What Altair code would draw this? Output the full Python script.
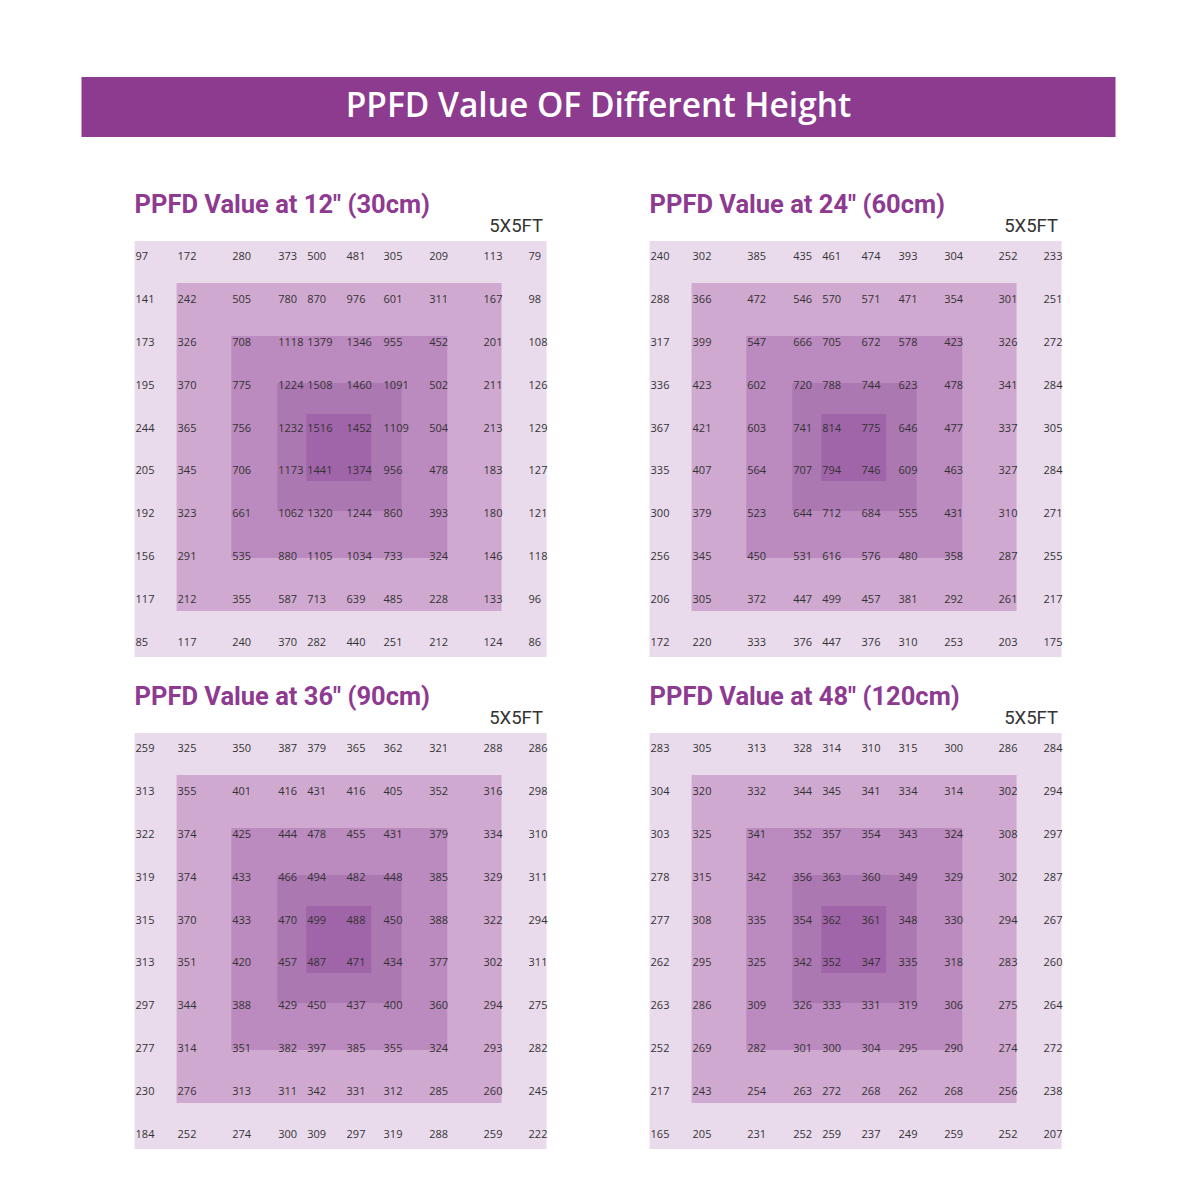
import altair as alt
import pandas as pd

# ---------------- data ----------------
banner_title = "PPFD Value OF Different Height"
panel_titles = [
    'PPFD Value at 12" (30cm)',
    'PPFD Value at 24" (60cm)',
    'PPFD Value at 36" (90cm)',
    'PPFD Value at 48" (120cm)',
]
area_label = "5X5FT"

ppfd_12in = [
    [97, 172, 280, 373, 500, 481, 305, 209, 113, 79],
    [141, 242, 505, 780, 870, 976, 601, 311, 167, 98],
    [173, 326, 708, 1118, 1379, 1346, 955, 452, 201, 108],
    [195, 370, 775, 1224, 1508, 1460, 1091, 502, 211, 126],
    [244, 365, 756, 1232, 1516, 1452, 1109, 504, 213, 129],
    [205, 345, 706, 1173, 1441, 1374, 956, 478, 183, 127],
    [192, 323, 661, 1062, 1320, 1244, 860, 393, 180, 121],
    [156, 291, 535, 880, 1105, 1034, 733, 324, 146, 118],
    [117, 212, 355, 587, 713, 639, 485, 228, 133, 96],
    [85, 117, 240, 370, 282, 440, 251, 212, 124, 86],
]
ppfd_24in = [
    [240, 302, 385, 435, 461, 474, 393, 304, 252, 233],
    [288, 366, 472, 546, 570, 571, 471, 354, 301, 251],
    [317, 399, 547, 666, 705, 672, 578, 423, 326, 272],
    [336, 423, 602, 720, 788, 744, 623, 478, 341, 284],
    [367, 421, 603, 741, 814, 775, 646, 477, 337, 305],
    [335, 407, 564, 707, 794, 746, 609, 463, 327, 284],
    [300, 379, 523, 644, 712, 684, 555, 431, 310, 271],
    [256, 345, 450, 531, 616, 576, 480, 358, 287, 255],
    [206, 305, 372, 447, 499, 457, 381, 292, 261, 217],
    [172, 220, 333, 376, 447, 376, 310, 253, 203, 175],
]
ppfd_36in = [
    [259, 325, 350, 387, 379, 365, 362, 321, 288, 286],
    [313, 355, 401, 416, 431, 416, 405, 352, 316, 298],
    [322, 374, 425, 444, 478, 455, 431, 379, 334, 310],
    [319, 374, 433, 466, 494, 482, 448, 385, 329, 311],
    [315, 370, 433, 470, 499, 488, 450, 388, 322, 294],
    [313, 351, 420, 457, 487, 471, 434, 377, 302, 311],
    [297, 344, 388, 429, 450, 437, 400, 360, 294, 275],
    [277, 314, 351, 382, 397, 385, 355, 324, 293, 282],
    [230, 276, 313, 311, 342, 331, 312, 285, 260, 245],
    [184, 252, 274, 300, 309, 297, 319, 288, 259, 222],
]
ppfd_48in = [
    [283, 305, 313, 328, 314, 310, 315, 300, 286, 284],
    [304, 320, 332, 344, 345, 341, 334, 314, 302, 294],
    [303, 325, 341, 352, 357, 354, 343, 324, 308, 297],
    [278, 315, 342, 356, 363, 360, 349, 329, 302, 287],
    [277, 308, 335, 354, 362, 361, 348, 330, 294, 267],
    [262, 295, 325, 342, 352, 347, 335, 318, 283, 260],
    [263, 286, 309, 326, 333, 331, 319, 306, 275, 264],
    [252, 269, 282, 301, 300, 304, 295, 290, 274, 272],
    [217, 243, 254, 263, 272, 268, 262, 268, 256, 238],
    [165, 205, 231, 252, 259, 237, 249, 259, 252, 207],
]
grids = [ppfd_12in, ppfd_24in, ppfd_36in, ppfd_48in]

# nested intensity zones (ring 0 = outermost)
zone_rings = [0, 1, 2, 3, 4]

# ---------------- styles / layout ----------------
PANEL_W, PANEL_H = 412, 416
zone_colors = ["#E9DBEC", "#D0A9D0", "#BB8ABE", "#AC78B1", "#A065A8"]
purple = "#8C3B8F"
title_purple = "#8E3A91"
num_font = "Open Sans"
head_font = "Roboto"

# piecewise scales: grid-line index -> position inside a panel
grid_lines = list(range(11))
x_line_px = [0, 42, 96.7, 142.7, 171.7, 211, 236.7, 267, 312.7, 367, PANEL_W]
y_line_px = [0, 42, 95, 142, 173, 207, 240, 270, 317, 370, PANEL_H]

xscale = alt.Scale(domain=grid_lines, range=x_line_px)
yscale = alt.Scale(domain=grid_lines, range=y_line_px)
rowscale = alt.Scale(type="point", padding=0.35)

top_axis = alt.Axis(
    orient="top", title=area_label, labels=False, ticks=False, domain=False,
    grid=False, titleAnchor="end", titleAlign="right", titleX=PANEL_W - 4,
    titleFontSize=18.5, titleFont=head_font, titleFontWeight="normal",
    titleColor="#333333", titlePadding=6,
)

zones = pd.DataFrame({"ring": zone_rings})
zones["lo"] = zones["ring"]
zones["hi"] = 10 - zones["ring"]


def panel(values, title):
    cells = pd.DataFrame(
        [{"row": r, "col": c, "value": v}
         for r, rowvals in enumerate(values) for c, v in enumerate(rowvals)]
    )
    rects = alt.Chart(zones).mark_rect(strokeWidth=0).encode(
        x=alt.X("lo:Q", scale=xscale, axis=top_axis),
        x2="hi:Q",
        y=alt.Y("lo:Q", scale=yscale, axis=None),
        y2="hi:Q",
        color=alt.Color("ring:O", scale=alt.Scale(range=zone_colors), legend=None),
        order=alt.Order("ring:O"),
    )
    left_txt = alt.Chart(cells).transform_filter("datum.col <= 5").mark_text(
        align="left", baseline="middle", dx=1, dy=1, font=num_font, fontSize=11,
        color="#333333",
    ).encode(
        x=alt.X("col:Q", scale=xscale, axis=top_axis),
        y=alt.Y("row:O", scale=rowscale, axis=None),
        text=alt.Text("value:Q", format="d"),
    )
    right_txt = alt.Chart(cells).transform_filter("datum.col >= 6").transform_calculate(
        line="datum.col + 1"
    ).mark_text(
        align="left", baseline="middle", dx=-18, dy=1, font=num_font, fontSize=11,
        color="#333333",
    ).encode(
        x=alt.X("line:Q", scale=xscale, axis=top_axis),
        y=alt.Y("row:O", scale=rowscale, axis=None),
        text=alt.Text("value:Q", format="d"),
    )
    return alt.layer(rects, left_txt, right_txt).resolve_scale(
        y="independent"
    ).properties(
        width=PANEL_W, height=PANEL_H,
        title=alt.TitleParams(
            text=title, anchor="start", font=head_font, fontSize=25.5,
            fontWeight="bold", color=title_purple, offset=-2,
        ),
    )


banner = alt.Chart(pd.DataFrame({"t": [banner_title]})).mark_text(
    color="white", font="Open Sans", fontSize=33.5, fontWeight=600,
    baseline="middle",
).encode(text="t:N").properties(
    width=1034, height=60, view=alt.ViewBackground(fill=purple, strokeWidth=0)
)

row1 = alt.hconcat(panel(grids[0], panel_titles[0]), panel(grids[1], panel_titles[1]), spacing=102)
row2 = alt.hconcat(panel(grids[2], panel_titles[2]), panel(grids[3], panel_titles[3]), spacing=102)
rows = alt.vconcat(row1, row2, spacing=27)

chart = alt.vconcat(banner, rows, spacing=55, center=True).properties(
    padding={"left": 81.5, "top": 77, "right": 0, "bottom": 0},
    background="white",
).configure_view(stroke=None)

chart.save("out.html", embed_options={"renderer": "svg", "actions": False})
